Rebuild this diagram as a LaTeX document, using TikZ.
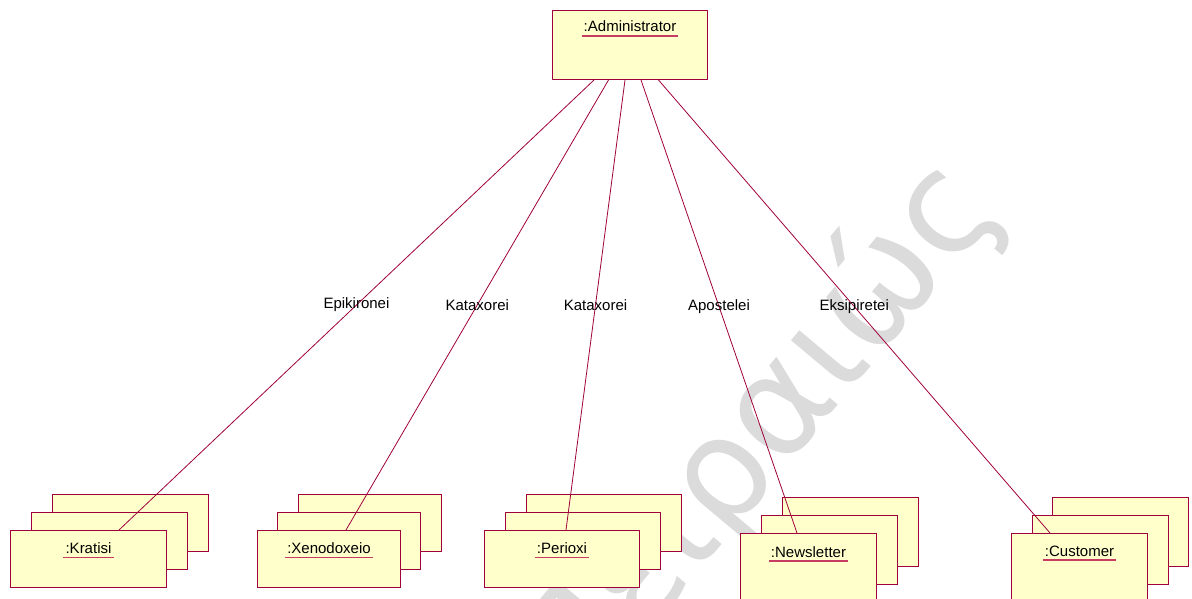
\documentclass[tikz,border=0pt]{standalone}
\usepackage{fontspec}
\setmainfont{Liberation Sans}
\newfontfamily\wmfont{DejaVu Sans}
\usetikzlibrary{calc}
\definecolor{umlline}{RGB}{160,0,60}
\definecolor{umlfill}{RGB}{255,255,204}
\definecolor{umlul}{RGB}{200,60,100}
\begin{document}
\begin{tikzpicture}[x=1pt,y=-1pt,
  objbox/.style={draw=umlline, fill=umlfill, line width=1pt, inner sep=0pt,
                 anchor=north west, minimum width=#1},
  objbox/.default=156pt,
  objname/.style={font=\fontsize{15}{18}\selectfont, inner sep=0pt, anchor=base},
  uline/.style={draw=umlul, line width=1.1pt},
  assoc/.style={draw=umlline, line width=0.8pt},
  lbl/.style={font=\fontsize{15}{18}\selectfont, inner sep=0pt, text=black}]

\useasboundingbox (0,0) rectangle (1192,599);
\fill[white] (0,0) rectangle (1192,599);
\begin{scope}
\clip (0,0) rectangle (1192,599);

% background stamp
\node[rotate=50, text=black!14, inner sep=0pt,
      font=\wmfont\fontsize{142}{142}\selectfont] (stamp) at (758,436) {Πειραιώς};

% administrator
\node[objbox=155pt, minimum height=69pt] (admin) at (552,10) {};
\node[objname] (adminT) at ($(admin.north)+(0,22)$) {:Administrator};
\draw[uline] ($(adminT.base west)+(-2,4)$) -- ($(adminT.base east)+(2,4)$);

% Kratisi (multi-object)
\node[objbox, minimum height=57pt] (kratisiC) at (52,494) {};
\node[objbox, minimum height=57pt] (kratisiB) at (31,512) {};
\node[objbox, minimum height=57pt] (kratisi) at (10,530) {};
\node[objname] (kratisiT) at ($(kratisi.north)+(0,23.5)$) {:Kratisi};
\draw[uline] ($(kratisiT.base west)+(-2,4)$) -- ($(kratisiT.base east)+(2,4)$);

% Xenodoxeio
\node[objbox=143pt, minimum height=57pt] (xenoC) at (298,494) {};
\node[objbox=143pt, minimum height=57pt] (xenoB) at (277,512) {};
\node[objbox=143pt, minimum height=57pt] (xeno) at (257,530) {};
\node[objname] (xenoT) at ($(xeno.north)+(0,23.5)$) {:Xenodoxeio};
\draw[uline] ($(xenoT.base west)+(-2,4)$) -- ($(xenoT.base east)+(2,4)$);

% Perioxi
\node[objbox=155pt, minimum height=57pt] (perioxiC) at (526,494) {};
\node[objbox=155pt, minimum height=57pt] (perioxiB) at (505,512) {};
\node[objbox=155pt, minimum height=57pt] (perioxi) at (484,530) {};
\node[objname] (perioxiT) at ($(perioxi.north)+(0,23.5)$) {:Perioxi};
\draw[uline] ($(perioxiT.base west)+(-2,4)$) -- ($(perioxiT.base east)+(2,4)$);

% Newsletter
\node[objbox=136pt, minimum height=69pt] (newsC) at (782,497) {};
\node[objbox=136pt, minimum height=69pt] (newsB) at (761,515) {};
\node[objbox=136pt, minimum height=69pt] (news) at (740,533) {};
\node[objname] (newsT) at ($(news.north)+(0,24)$) {:Newsletter};
\draw[uline] ($(newsT.base west)+(-2,4)$) -- ($(newsT.base east)+(2,4)$);

% Customer
\node[objbox=136pt, minimum height=69pt] (custC) at (1052,497) {};
\node[objbox=136pt, minimum height=69pt] (custB) at (1032,515) {};
\node[objbox=136pt, minimum height=69pt] (cust) at (1011,533) {};
\node[objname] (custT) at ($(cust.north)+(0,23)$) {:Customer};
\draw[uline] ($(custT.base west)+(-2,4)$) -- ($(custT.base east)+(2,4)$);

% links
\draw[assoc] ($(admin.south west)+(42,0)$) -- node[lbl]{Epikironei} ($(kratisi.north west)+(109,0)$);
\draw[assoc] ($(admin.south west)+(56.5,0)$) -- node[lbl]{Kataxorei} ($(xeno.north west)+(89,0)$);
\draw[assoc] ($(admin.south west)+(73,0)$) -- node[lbl]{Kataxorei} ($(perioxi.north west)+(82,0)$);
\draw[assoc] ($(admin.south west)+(89,0)$) -- node[lbl]{Apostelei} ($(news.north west)+(57,0)$);
\draw[assoc] ($(admin.south west)+(106.5,0)$) -- node[lbl]{Eksipiretei} ($(cust.north west)+(39,0)$);
\end{scope}
\end{tikzpicture}
\end{document}
